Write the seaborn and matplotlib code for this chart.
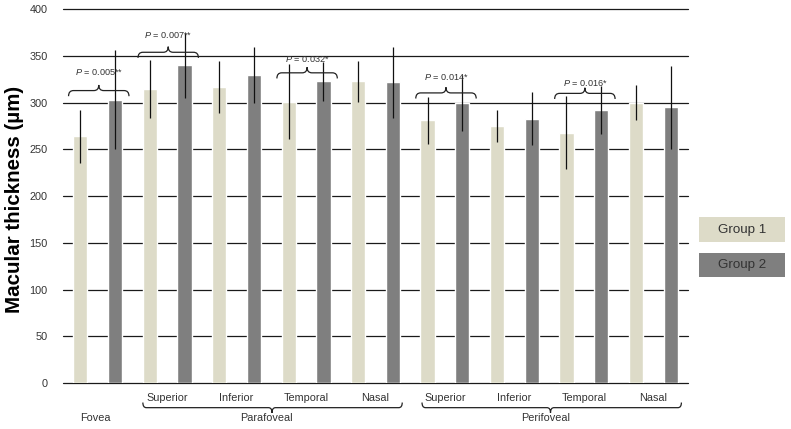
import matplotlib
matplotlib.use("Agg")
import matplotlib.pyplot as plt
from matplotlib.path import Path
from matplotlib.patches import PathPatch, Rectangle
import seaborn as sns
import pandas as pd

# ---------------- data ----------------
region_keys = ["Fovea", "Para Superior", "Para Inferior", "Para Temporal", "Para Nasal",
               "Peri Superior", "Peri Inferior", "Peri Temporal", "Peri Nasal"]
tick_labels = ["", "Superior", "Inferior", "Temporal", "Nasal",
               "Superior", "Inferior", "Temporal", "Nasal"]
groups = ["Group 1", "Group 2"]
group1_mean = [264, 315, 317, 301, 323, 281, 275, 268, 300]
group1_sd = [28, 31, 28, 40, 22, 25, 17, 39, 19]
group2_mean = [303, 340, 330, 323, 322, 300, 283, 292, 295]
group2_sd = [53, 35, 30, 21, 38, 30, 28, 26, 44]
p_index = [0, 1, 3, 5, 7]
p_labels = ["0.005**", "0.007**", "0.032*", "0.014*", "0.016*"]
section_labels = ["Fovea", "Parafoveal", "Perifoveal"]
y_ticks = [0, 50, 100, 150, 200, 250, 300, 350, 400]

# ---------------- layout (not data) ----------------
bracket_level = [313, 354, 332, 310.5, 310]
text_level = [333, 373, 347, 327.6, 321.6]
c1 = "#DDDBC8"
c2 = "#7F7F7F"
txt = "#333333"

sns.set_theme(style="white")
plt.rcParams["font.family"] = ["Liberation Sans", "DejaVu Sans"]
plt.rcParams["mathtext.fontset"] = "custom"
plt.rcParams["mathtext.it"] = "Liberation Sans:italic"
plt.rcParams["mathtext.rm"] = "Liberation Sans"

df = pd.DataFrame({
    "region": region_keys * 2,
    "group": [groups[0]] * len(region_keys) + [groups[1]] * len(region_keys),
    "thickness": group1_mean + group2_mean,
})

fig = plt.figure(figsize=(7.91, 4.29), dpi=100)
ax = fig.add_axes([63 / 791, 1 - 383 / 429, 625 / 791, 373.7 / 429])

sns.barplot(data=df, x="region", y="thickness", hue="group", order=region_keys,
            hue_order=groups, palette=[c1, c2], width=1.0, gap=0.59,
            errorbar=None, legend=False, saturation=1, ax=ax)

for cont, means, sds in zip(ax.containers, [group1_mean, group2_mean], [group1_sd, group2_sd]):
    xs = [p.get_x() + p.get_width() / 2 for p in cont]
    ax.errorbar(xs, means, yerr=sds, fmt="none", ecolor="#111111", elinewidth=0.9,
                capsize=0, zorder=5)

ax.set_xlim(-0.5, 8.5)
ax.set_ylim(0, 400)
ax.set_yticks(y_ticks)
ax.set_xticks(range(len(region_keys)))
ax.set_xticklabels(tick_labels)
ax.tick_params(axis="both", length=0, colors=txt, labelsize=7.8)
ax.tick_params(axis="y", pad=11)
ax.tick_params(axis="x", pad=7)
for s in ax.spines.values():
    s.set_visible(False)
ax.set_axisbelow(True)
ax.yaxis.grid(True, color="#1a1a1a", linewidth=0.9)
ax.xaxis.grid(False)
for gl in ax.get_ygridlines():
    gl.set_clip_on(False)
ax.set_xlabel("")
ax.set_ylabel("Macular thickness (\u00b5m)", fontsize=14.8, fontweight="bold", color="black")
ax.yaxis.set_label_coords(-0.062, 0.49)


def brace(x0, x1, y, d, up=True, r=0.07, xm=None):
    s = 1 if up else -1
    if xm is None:
        xm = (x0 + x1) / 2
    verts = [
        (x0, y - s * d), (x0, y), (x0 + r, y),
        (xm - r, y), (xm, y), (xm, y + s * d),
        (xm, y), (xm + r, y),
        (x1 - r, y), (x1, y), (x1, y - s * d),
    ]
    codes = [Path.MOVETO, Path.CURVE3, Path.CURVE3,
             Path.LINETO, Path.CURVE3, Path.CURVE3,
             Path.CURVE3, Path.CURVE3,
             Path.LINETO, Path.CURVE3, Path.CURVE3]
    ax.add_patch(PathPatch(Path(verts, codes), fill=False, edgecolor="#222222",
                           linewidth=0.9, clip_on=False, zorder=6))


for i, lab, yb, yt in zip(p_index, p_labels, bracket_level, text_level):
    brace(i - 0.42, i + 0.45, yb, 6.0, up=True)
    ax.text(i + 0.02, yt, r"$P$ = " + lab, ha="center", va="center", fontsize=6.6,
            color=txt, zorder=7)

# lower section braces and labels
brace(0.65, 4.385, -26.4, 5.5, up=False, r=0.05, xm=2.51)
brace(4.67, 8.405, -26.4, 5.5, up=False, r=0.05, xm=6.52)
for xpos, lab in zip([-0.04, 2.43, 6.455], section_labels):
    ax.text(xpos, -37.8, lab, ha="center", va="center", fontsize=7.8, color=txt,
            clip_on=False)

# legend boxes
for (y0, h), col, lab in zip([(217, 25), (253, 24)], [c1, c2], groups):
    fig.add_artist(Rectangle((699 / 791, 1 - (y0 + h) / 429), 86 / 791, h / 429,
                             transform=fig.transFigure, facecolor=col, edgecolor="none"))
    fig.text((699 + 43) / 791, 1 - (y0 + h / 2) / 429, lab, ha="center", va="center",
             fontsize=9.6, color=txt)

fig.savefig("out.png", dpi=100)
